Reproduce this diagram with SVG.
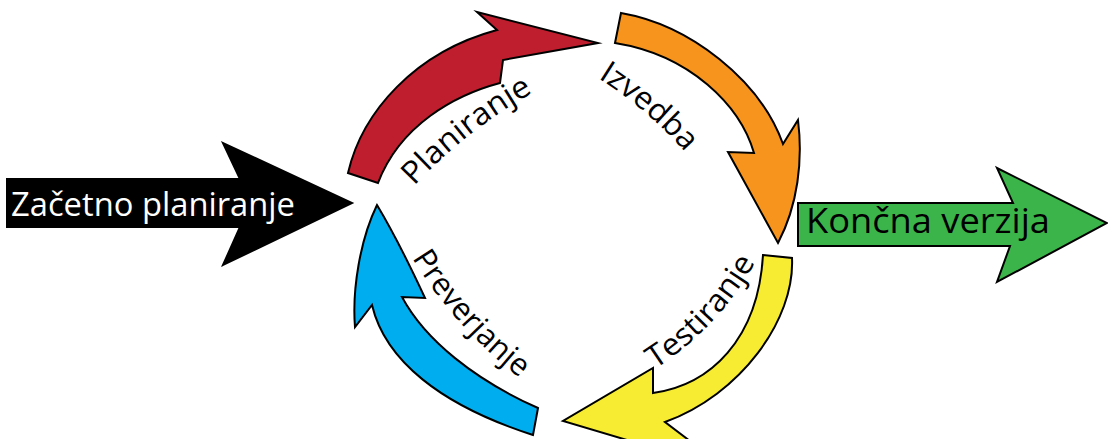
<svg xmlns="http://www.w3.org/2000/svg" width="1108" height="439" viewBox="0 0 1108 439">
<style>
.ol{stroke:#000;stroke-width:2;stroke-linejoin:miter;stroke-miterlimit:10}
.lbl{font-family:"Open Sans","Noto Sans","Liberation Sans",sans-serif;font-size:31px;fill:#000}
.big{font-family:"Open Sans","Noto Sans","Liberation Sans",sans-serif}
</style>
<defs>
<path id="pPlan" d="M 414,186 A 500 500 0 0 1 534,92"/>
<path id="pIzv" d="M 598,78 A 400 400 0 0 1 686,153"/>
<path id="pTest" d="M 655,369 A 300 300 0 0 0 756,261"/>
<path id="pPrev" d="M 412,258 A 450 450 0 0 0 521,379"/>
</defs>
<rect width="1108" height="439" fill="#fff"/>
<g id="start">
<polygon class="ol" fill="#000" points="7,179 240,179 223,143 352,203 223,265 240,227 7,227"/>
<text class="big" x="11" y="216" font-size="32" fill="#fff" textLength="284" lengthAdjust="spacingAndGlyphs">Začetno planiranje</text>
</g>
<g id="end">
<polygon class="ol" fill="#3BB44A" points="798,203 1013,203 997,168 1107,223 997,282 1010,246 798,246"/>
<text class="big" x="806" y="233" font-size="35" fill="#000" textLength="244" lengthAdjust="spacingAndGlyphs">Končna verzija</text>
</g>
<g id="connectors">
<path id="planArrow" class="ol" fill="#BE1E2D" d="M 348,173 C 362,112 415,52 497,30 L 477,12 L 598,43 L 503,60 L 500,83 C 455,95 400,125 378,183 Z"/>
<path id="izvArrow" class="ol" fill="#F7941D" d="M 621,13 C 690,25 760,80 783,144 L 798,120 C 803,160 798,205 778,243 L 728,152 L 754,153 C 740,105 690,55 615,43 Z"/>
<path id="testArrow" class="ol" fill="#F7EC31" d="M 763,255 L 792,258 C 795,320 740,395 665,422 L 728,470 L 563,421 L 653,368 L 653,393 C 710,385 758,340 763,255 Z"/>
<path id="prevArrow" class="ol" fill="#00AEEF" d="M 377,205 C 360,240 352,290 355,327 L 372,305 C 385,360 440,405 533,435 L 538,408 C 475,380 425,340 402,297 L 425,298 C 412,270 395,235 377,205 Z"/>
</g>
<g id="lblPlaniranje"><text class="lbl"><textPath href="#pPlan" textLength="152" lengthAdjust="spacingAndGlyphs">Planiranje</textPath></text></g>
<g id="lblIzvedba"><text class="lbl"><textPath href="#pIzv" textLength="115" lengthAdjust="spacingAndGlyphs">Izvedba</textPath></text></g>
<g id="lblTestiranje"><text class="lbl"><textPath href="#pTest" textLength="148" lengthAdjust="spacingAndGlyphs">Testiranje</textPath></text></g>
<g id="lblPreverjanje"><text class="lbl"><textPath href="#pPrev" textLength="162" lengthAdjust="spacingAndGlyphs">Preverjanje</textPath></text></g>
</svg>
